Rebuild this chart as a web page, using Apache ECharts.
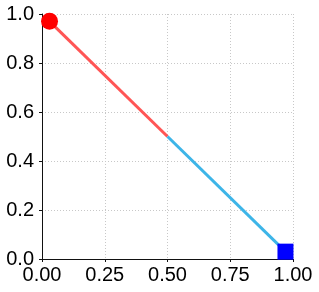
<!DOCTYPE html>
<html><head><meta charset="utf-8">
<script src="https://cdn.jsdelivr.net/npm/echarts@6/dist/echarts.min.js"></script>
<style>html,body{margin:0;padding:0;background:#fff}#c{width:319px;height:292px}</style>
</head><body><div id="c"></div>
<script>
var xTicks = [0, 0.25, 0.5, 0.75, 1.0];
var yTicks = [0, 0.2, 0.4, 0.6, 0.8, 1.0];
var redSegment = [[0.03, 0.97], [0.5, 0.5]];
var blueSegment = [[0.5, 0.5], [0.97, 0.03]];
var startPoint = [[0.03, 0.97]];
var endPoint = [[0.97, 0.03]];

var chart = echarts.init(document.getElementById('c'), null, {renderer: 'canvas'});
var font = 'Liberation Sans, Arial, sans-serif';
chart.setOption({
  animation: false,
  grid: {left: 42, right: 26, top: 14, bottom: 33, containLabel: false},
  xAxis: {
    type: 'value', min: 0, max: 1, interval: 0.25,
    axisLine: {show: true, onZero: false, lineStyle: {color: '#111', width: 1}},
    axisTick: {show: true, length: 3, lineStyle: {color: '#111'}},
    axisLabel: {color: '#000', fontSize: 20, fontFamily: font, margin: 6,
      formatter: function(v){ return v.toFixed(2); }},
    splitLine: {show: true, lineStyle: {color: '#c8c8c8', type: [1, 2], width: 1}}
  },
  yAxis: {
    type: 'value', min: 0, max: 1, interval: 0.2,
    axisLine: {show: true, onZero: false, lineStyle: {color: '#111', width: 1}},
    axisTick: {show: true, length: 3, lineStyle: {color: '#111'}},
    axisLabel: {color: '#000', fontSize: 20, fontFamily: font, margin: 8,
      formatter: function(v){ return v.toFixed(1); }},
    splitLine: {show: true, lineStyle: {color: '#c8c8c8', type: [1, 2], width: 1}}
  },
  series: [
    {type: 'line', data: redSegment, symbol: 'none', lineStyle: {color: '#ff5555', width: 3}, z: 2},
    {type: 'line', data: blueSegment, symbol: 'none', lineStyle: {color: '#3db5e8', width: 3}, z: 2},
    {type: 'scatter', data: startPoint, symbol: 'circle', symbolSize: 17, itemStyle: {color: '#ff0000', opacity: 1}, z: 3},
    {type: 'scatter', data: endPoint, symbol: 'rect', symbolSize: 16, itemStyle: {color: '#0000ff', opacity: 1}, z: 3}
  ]
});
</script></body></html>
